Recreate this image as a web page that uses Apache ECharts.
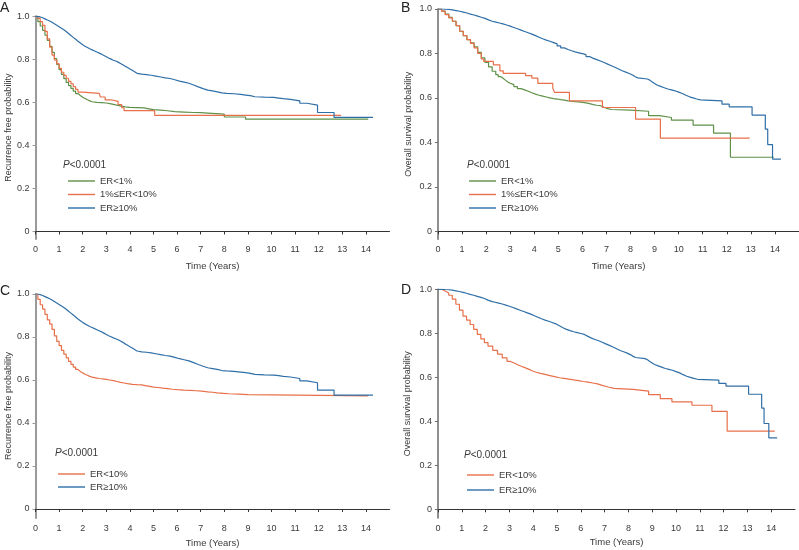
<!DOCTYPE html>
<html>
<head>
<meta charset="utf-8">
<script src="https://cdn.jsdelivr.net/npm/echarts@6/dist/echarts.min.js"></script>
<style>html,body{margin:0;padding:0;background:#fff}#c{width:799px;height:550px}</style>
</head>
<body>
<div id="c"></div>
<script>
// ---- Data (time in years, survival probability) ----
var xTicks = [0,1,2,3,4,5,6,7,8,9,10,11,12,13,14];
var yTicks = [0,0.2,0.4,0.6,0.8,1.0];

// Panel A: Recurrence free probability
var rfsEr1 = [[0,1],[0.1,0.975],[0.2,0.955],[0.3,0.935],[0.4,0.912],[0.5,0.888],[0.6,0.86],[0.7,0.832],[0.8,0.803],[0.9,0.776],[1.0,0.752],[1.1,0.73],[1.2,0.71],[1.3,0.693],[1.4,0.678],[1.5,0.665],[1.6,0.652],[1.7,0.641],[1.8,0.632],[1.9,0.624],[2.0,0.618],[2.1,0.612],[2.2,0.607],[2.3,0.603],[2.4,0.6],[2.6,0.599],[2.8,0.597],[3.0,0.593],[3.2,0.588],[3.4,0.584],[3.6,0.579],[3.8,0.577],[4.0,0.576],[4.3,0.574],[4.6,0.57],[4.8,0.566],[5.0,0.564],[5.3,0.561],[5.6,0.557],[5.9,0.555],[6.3,0.553],[6.7,0.552],[7.0,0.55],[7.3,0.545],[8.0,0.532],[8.9,0.522],[14.1,0.522]];
var rfsEr1to10 = [[0,1],[0.1,0.99],[0.2,0.975],[0.3,0.958],[0.4,0.93],[0.5,0.895],[0.6,0.857],[0.7,0.82],[0.8,0.797],[0.9,0.78],[1.0,0.758],[1.1,0.74],[1.2,0.725],[1.3,0.712],[1.4,0.698],[1.5,0.686],[1.6,0.673],[1.7,0.66],[1.8,0.648],[2.0,0.642],[2.7,0.642],[2.75,0.625],[2.95,0.612],[3.2,0.605],[3.5,0.59],[3.65,0.575],[3.75,0.562],[5.05,0.54],[12.95,0.54]];
var rfsEr10 = [[0,1],[0.1,0.997],[0.2,0.993],[0.3,0.988],[0.4,0.983],[0.5,0.978],[0.6,0.972],[0.7,0.965],[0.8,0.958],[0.9,0.951],[1.0,0.944],[1.1,0.937],[1.2,0.929],[1.3,0.92],[1.4,0.911],[1.5,0.902],[1.6,0.893],[1.7,0.884],[1.8,0.876],[1.9,0.868],[2.0,0.861],[2.1,0.855],[2.2,0.849],[2.3,0.844],[2.4,0.839],[2.5,0.834],[2.6,0.829],[2.7,0.824],[2.8,0.818],[2.9,0.812],[3.0,0.806],[3.1,0.801],[3.2,0.796],[3.3,0.792],[3.4,0.787],[3.5,0.781],[3.6,0.775],[3.7,0.768],[3.8,0.762],[3.9,0.755],[4.0,0.749],[4.1,0.742],[4.2,0.735],[4.3,0.731],[4.5,0.729],[4.7,0.726],[4.9,0.722],[5.1,0.718],[5.3,0.714],[5.5,0.711],[5.7,0.705],[5.9,0.699],[6.1,0.694],[6.3,0.689],[6.5,0.681],[6.7,0.672],[6.9,0.664],[7.1,0.657],[7.3,0.653],[7.5,0.649],[7.7,0.644],[7.9,0.642],[8.1,0.64],[8.4,0.637],[8.7,0.634],[8.9,0.631],[9.1,0.626],[9.3,0.624],[9.7,0.623],[10.1,0.62],[10.3,0.617],[10.5,0.614],[10.8,0.607],[11.2,0.596],[11.5,0.587],[11.95,0.553],[12.65,0.53],[14.3,0.53]];

// Panel B: Overall survival probability
var osEr1 = [[0,1],[0.15,0.99],[0.3,0.977],[0.45,0.962],[0.6,0.945],[0.75,0.925],[0.9,0.9],[1.05,0.88],[1.2,0.862],[1.35,0.848],[1.5,0.83],[1.65,0.805],[1.8,0.78],[1.95,0.76],[2.1,0.74],[2.25,0.72],[2.4,0.705],[2.5,0.696],[2.6,0.688],[2.7,0.68],[2.8,0.672],[2.9,0.666],[3.0,0.66],[3.15,0.651],[3.3,0.642],[3.45,0.636],[3.6,0.63],[3.75,0.623],[3.9,0.617],[4.05,0.612],[4.2,0.608],[4.35,0.604],[4.5,0.6],[4.65,0.597],[4.8,0.595],[4.95,0.592],[5.1,0.59],[5.25,0.587],[5.4,0.585],[5.55,0.583],[5.7,0.582],[5.85,0.58],[6.0,0.578],[6.15,0.574],[6.3,0.57],[6.45,0.567],[6.6,0.565],[6.75,0.558],[6.9,0.552],[7.05,0.548],[7.2,0.545],[8.0,0.54],[8.75,0.52],[9.2,0.512],[9.7,0.5],[10.6,0.478],[11.45,0.442],[12.15,0.333],[13.95,0.333]];
var osEr1to10 = [[0,1],[0.15,0.99],[0.3,0.975],[0.45,0.96],[0.6,0.945],[0.75,0.925],[0.9,0.9],[1.05,0.88],[1.2,0.862],[1.35,0.845],[1.5,0.825],[1.65,0.8],[1.8,0.775],[1.9,0.764],[2.3,0.749],[2.57,0.722],[2.71,0.71],[3.64,0.7],[3.9,0.689],[4.15,0.665],[4.77,0.644],[4.84,0.625],[5.46,0.587],[6.83,0.557],[8.21,0.505],[9.24,0.419],[12.95,0.419]];
var osEr10 = [[0,1],[0.1,1],[0.2,0.999],[0.3,0.998],[0.45,0.996],[0.6,0.993],[0.75,0.99],[0.9,0.986],[1.05,0.982],[1.2,0.977],[1.35,0.973],[1.5,0.968],[1.65,0.963],[1.8,0.958],[1.95,0.951],[2.1,0.945],[2.25,0.941],[2.4,0.937],[2.55,0.933],[2.7,0.928],[2.85,0.923],[3.0,0.917],[3.15,0.911],[3.3,0.905],[3.45,0.899],[3.6,0.893],[3.75,0.887],[3.9,0.88],[4.05,0.873],[4.2,0.866],[4.35,0.86],[4.5,0.855],[4.65,0.849],[4.8,0.843],[4.95,0.834],[5.1,0.825],[5.25,0.818],[5.4,0.812],[5.55,0.807],[5.7,0.803],[5.85,0.799],[6.0,0.795],[6.15,0.786],[6.3,0.778],[6.45,0.772],[6.6,0.766],[6.75,0.759],[6.9,0.752],[7.05,0.745],[7.2,0.738],[7.35,0.73],[7.5,0.722],[7.65,0.716],[7.8,0.71],[7.95,0.702],[8.1,0.695],[8.2,0.69],[8.3,0.685],[8.7,0.68],[8.8,0.672],[8.9,0.665],[9.0,0.658],[9.1,0.652],[9.25,0.646],[9.4,0.64],[9.55,0.636],[9.7,0.632],[9.85,0.626],[10.0,0.62],[10.15,0.612],[10.3,0.605],[10.45,0.6],[10.6,0.595],[10.75,0.591],[10.9,0.587],[11.8,0.572],[12.1,0.56],[13.05,0.523],[13.6,0.46],[13.7,0.39],[13.9,0.325],[14.25,0.325]];

// Panel C: RFS, ER<10% vs ER>=10%
var rfsErLt10 = [[0,1],[0.1,0.975],[0.2,0.95],[0.3,0.93],[0.4,0.905],[0.5,0.88],[0.6,0.86],[0.7,0.835],[0.8,0.805],[0.9,0.78],[1.0,0.76],[1.1,0.738],[1.2,0.72],[1.3,0.703],[1.4,0.687],[1.5,0.673],[1.6,0.66],[1.7,0.649],[1.8,0.64],[1.9,0.633],[2.0,0.627],[2.1,0.622],[2.2,0.617],[2.3,0.613],[2.4,0.61],[2.55,0.607],[2.7,0.605],[2.85,0.603],[3.0,0.6],[3.15,0.597],[3.3,0.593],[3.45,0.589],[3.6,0.586],[3.75,0.583],[3.9,0.58],[4.1,0.578],[4.3,0.577],[4.5,0.573],[4.7,0.57],[4.85,0.567],[5.0,0.565],[5.2,0.562],[5.4,0.56],[5.6,0.557],[5.8,0.555],[6.0,0.553],[6.3,0.552],[6.55,0.55],[6.8,0.548],[7.05,0.545],[7.3,0.543],[7.5,0.54],[7.7,0.538],[7.95,0.536],[8.2,0.534],[8.6,0.532],[9.0,0.526],[14.1,0.526]];

// Panel D: OS, ER<10% vs ER>=10%
var osErLt10 = [[0,1],[0.15,0.992],[0.3,0.983],[0.45,0.973],[0.6,0.955],[0.75,0.932],[0.9,0.905],[1.05,0.878],[1.2,0.86],[1.35,0.84],[1.5,0.818],[1.65,0.795],[1.8,0.775],[1.95,0.758],[2.1,0.742],[2.3,0.722],[2.5,0.705],[2.7,0.688],[2.9,0.672],[3.05,0.665],[3.2,0.657],[3.35,0.65],[3.5,0.644],[3.65,0.637],[3.8,0.63],[3.95,0.624],[4.1,0.618],[4.3,0.613],[4.5,0.608],[4.7,0.603],[4.9,0.598],[5.1,0.595],[5.3,0.592],[5.5,0.588],[5.7,0.585],[5.9,0.581],[6.1,0.578],[6.3,0.574],[6.5,0.57],[6.7,0.563],[6.9,0.556],[7.15,0.55],[7.4,0.545],[8.2,0.537],[8.85,0.521],[9.34,0.503],[9.83,0.488],[10.67,0.473],[11.51,0.445],[12.15,0.355],[14.15,0.355]];

// ---- Styling ----
var FONT = 'Liberation Sans, Arial, Helvetica, sans-serif';
var TXT = '#3a3a3a';
var GREEN = '#5f9148', ORANGE = '#e8704a', BLUE = '#2f6fa7';

var panels = [
  {grid:{left:35.5, top:16.3, width:354, height:222.7}, ymin:-0.035, yname:'Recurrence free probability', yAxisColor:'#9a9a9a', yAxisWidth:2, yGap:21, xGap:22},
  {grid:{left:438, top:9, width:364.5, height:230.3}, ymin:-0.036, yname:'Overall survival probability', yAxisColor:'#6a6a6a', yAxisWidth:1.5, yGap:25, xGap:22},
  {grid:{left:35.5, top:294, width:354, height:224}, ymin:-0.042, yname:'Recurrence free probability', yAxisColor:'#9a9a9a', yAxisWidth:2, yGap:21, xGap:20},
  {grid:{left:438, top:289.3, width:357, height:228.7}, ymin:-0.0395, yname:'Overall survival probability', yAxisColor:'#6a6a6a', yAxisWidth:1.5, yGap:26, xGap:19}
];

var grids = [], xAxes = [], yAxes = [];
panels.forEach(function(p, i){
  grids.push(Object.assign({containLabel:false}, p.grid));
  xAxes.push({
    type:'value', gridIndex:i, min:0, max:15,
    name:'Time (Years)', nameLocation:'middle', nameGap:p.xGap,
    nameTextStyle:{fontFamily:FONT, fontSize:9.5, color:TXT},
    axisLine:{show:true, lineStyle:{color:'#333', width:1}},
    axisTick:{show:true, length:3, lineStyle:{color:'#333'}, customValues:xTicks},
    axisLabel:{fontFamily:FONT, fontSize:9, color:TXT, margin:6, customValues:xTicks},
    splitLine:{show:false}
  });
  yAxes.push({
    type:'value', gridIndex:i, min:p.ymin, max:1,
    name:p.yname, nameLocation:'middle', nameGap:p.yGap,
    nameTextStyle:{fontFamily:FONT, fontSize:9, color:TXT},
    axisLine:{show:true, lineStyle:{color:p.yAxisColor, width:p.yAxisWidth}},
    axisTick:{show:true, length:3, lineStyle:{color:p.yAxisColor}, customValues:yTicks},
    axisLabel:{fontFamily:FONT, fontSize:9, color:TXT, margin:6, customValues:yTicks,
      formatter:function(v){ return Math.abs(v) < 1e-9 ? '0' : v.toFixed(1); }},
    splitLine:{show:false}
  });
});

function km(name, data, color, idx){
  return {type:'line', name:name, data:data, step:'end', xAxisIndex:idx, yAxisIndex:idx,
    showSymbol:false, symbol:'none', lineStyle:{color:color, width:1.2}, itemStyle:{color:color},
    silent:true, animation:false};
}

var series = [
  km('ER<1%', rfsEr1, GREEN, 0),
  km('1%≤ER<10%', rfsEr1to10, ORANGE, 0),
  km('ER≥10%', rfsEr10, BLUE, 0),
  km('ER<1%', osEr1, GREEN, 1),
  km('1%≤ER<10%', osEr1to10, ORANGE, 1),
  km('ER≥10%', osEr10, BLUE, 1),
  km('ER<10%', rfsErLt10, ORANGE, 2),
  km('ER≥10%', rfsEr10, BLUE, 2),
  km('ER<10%', osErLt10, ORANGE, 3),
  km('ER≥10%', osEr10, BLUE, 3)
];

function legend(left, top, names, gap){
  return {left:left, top:top, orient:'vertical', data:names, icon:'rect', itemWidth:27, itemHeight:1.4,
    itemGap:gap, padding:0, selectedMode:false,
    textStyle:{fontFamily:FONT, fontSize:9.5, color:TXT, lineHeight:10}};
}

function ptext(left, top){
  return {left:left, top:top, padding:0, text:'{i|P}<0.0001',
    textStyle:{fontFamily:FONT, fontSize:10, color:TXT, fontWeight:'normal',
      rich:{i:{fontStyle:'italic', fontFamily:FONT, fontSize:10, color:TXT}}}};
}
function letter(left, top, t){
  return {left:left, top:top, padding:0, text:t,
    textStyle:{fontFamily:FONT, fontSize:14, color:'#222', fontWeight:'normal'}};
}

var option = {
  backgroundColor:'#fff',
  animation:false,
  title:[
    letter(0, 1, 'A'), letter(401, 1, 'B'), letter(0, 284, 'C'), letter(401, 283, 'D'),
    ptext(63, 160), ptext(467, 160), ptext(55, 448), ptext(464, 450)
  ],
  legend:[
    legend(68, 176, ['ER<1%','1%≤ER<10%','ER≥10%'], 3.5),
    legend(469, 176, ['ER<1%','1%≤ER<10%','ER≥10%'], 3.5),
    legend(58, 469, ['ER<10%','ER≥10%'], 3),
    legend(467, 470, ['ER<10%','ER≥10%'], 5)
  ],
  grid:grids, xAxis:xAxes, yAxis:yAxes, series:series
};

var chart = echarts.init(document.getElementById('c'), null, {renderer:'canvas'});
chart.setOption(option);
</script>
</body>
</html>
